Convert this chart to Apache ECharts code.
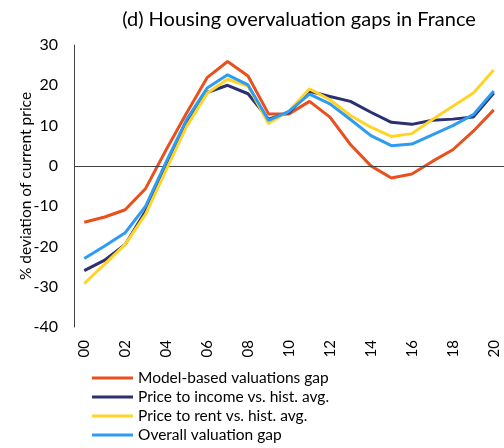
<!DOCTYPE html>
<html>
<head>
<meta charset="utf-8">
<script src="https://cdn.jsdelivr.net/npm/echarts@6/dist/echarts.min.js"></script>
<style>
  html, body { margin: 0; padding: 0; background: #fff; }
  #chart { width: 504px; height: 448px; }
</style>
</head>
<body>
<div id="chart"></div>
<script>
const years = ['00', '01', '02', '03', '04', '05', '06', '07', '08', '09', '10',
  '11', '12', '13', '14', '15', '16', '17', '18', '19', '20'];

const modelGap = [-14, -12.7, -10.9, -5.6, 4, 13.1, 21.9, 25.9, 22.3, 12.9, 12.9,
  16, 12.1, 5.3, 0, -3, -2, 1.1, 4, 8.6, 13.9];
const priceIncome = [-26, -23.4, -19.5, -11.2, 0, 10.5, 18.2, 20, 17.9, 11.6, 13.2,
  18.5, 17.2, 16, 13.3, 10.8, 10.3, 11.3, 11.6, 12.1, 18.1];
const priceRent = [-29.2, -24.4, -19.5, -12, -1, 9.8, 18, 21.5, 19.8, 10.5, 13.6,
  19.1, 16.4, 12.5, 9.6, 7.3, 8, 11.5, 14.8, 18.1, 23.8];
const overallGap = [-23, -19.9, -16.6, -10, 1, 11.5, 19.3, 22.6, 20.1, 11.3, 13.5,
  17.8, 15.4, 11.5, 7.5, 5, 5.4, 7.7, 10, 12.7, 18.6];

const seriesNames = ['Model-based valuations gap', 'Price to income vs. hist. avg.',
  'Price to rent vs. hist. avg.', 'Overall valuation gap'];
const colors = ['#E8501E', '#2B3070', '#FFD426', '#2E9CF2'];

const font = 'Lato, "Open Sans", sans-serif';

const chart = echarts.init(document.getElementById('chart'));

const mkSeries = (name, data, color, i) => ({
  name: name,
  type: 'line',
  data: data,
  symbol: 'none',
  z: 3 + i,
  lineStyle: { color: color, width: 3 },
  itemStyle: { color: color },
  markLine: i === 0 ? {
    silent: true,
    symbol: 'none',
    label: { show: false },
    lineStyle: { color: '#404040', width: 1, type: 'solid' },
    data: [{ yAxis: 0 }]
  } : undefined
});

chart.setOption({
  animation: false,
  color: colors,
  title: {
    text: '(d) Housing overvaluation gaps in France',
    left: 294,
    textAlign: 'center',
    top: 5,
    textStyle: { fontFamily: font, fontSize: 20, fontWeight: 'normal', color: '#000' }
  },
  grid: { left: 74, right: 0, top: 45, bottom: 121 },
  legend: {
    orient: 'vertical',
    left: 92,
    top: 369,
    padding: 0,
    height: 79,
    icon: 'rect',
    itemWidth: 41,
    itemHeight: 3,
    itemGap: 1,
    textStyle: { fontFamily: font, fontSize: 15.5, color: '#000', lineHeight: 18 },
    data: seriesNames
  },
  xAxis: {
    type: 'category',
    data: years,
    boundaryGap: true,
    axisLine: { show: false },
    axisTick: { show: false },
    axisLabel: {
      interval: 1,
      rotate: 90,
      margin: 13,
      fontFamily: font,
      fontSize: 15,
      color: '#000'
    }
  },
  yAxis: {
    type: 'value',
    min: -40,
    max: 30,
    interval: 10,
    name: '% deviation of current price',
    nameLocation: 'middle',
    nameGap: 40,
    nameMoveOverlap: false,
    nameTextStyle: { fontFamily: font, fontSize: 15.5, color: '#000' },
    splitLine: { show: false },
    axisTick: { show: false },
    axisLine: { show: true, lineStyle: { color: '#404040', width: 1 } },
    axisLabel: { fontFamily: font, fontSize: 16, color: '#000', margin: 16 }
  },
  series: [
    mkSeries(seriesNames[0], modelGap, colors[0], 0),
    mkSeries(seriesNames[1], priceIncome, colors[1], 1),
    mkSeries(seriesNames[2], priceRent, colors[2], 2),
    mkSeries(seriesNames[3], overallGap, colors[3], 3)
  ]
});
</script>
</body>
</html>
